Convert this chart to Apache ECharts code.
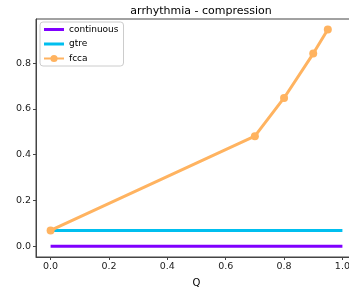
<!DOCTYPE html>
<html><head><meta charset="utf-8">
<script src="https://cdn.jsdelivr.net/npm/echarts@6/dist/echarts.min.js"></script>
<style>html,body{margin:0;padding:0;background:#fff}#c{width:349px;height:291px}</style>
</head><body><div id="c"></div>
<script>
const titleText = 'arrhythmia - compression';
const xName = 'Q';
const continuousX = [0, 1];
const continuousY = [0, 0];
const gtreX = [0, 1];
const gtreY = [0.069, 0.069];
const fccaX = [0, 0.7, 0.8, 0.9, 0.95];
const fccaY = [0.069, 0.481, 0.648, 0.842, 0.947];
const xTicks = [0, 0.2, 0.4, 0.6, 0.8, 1.0];
const yTicks = [0, 0.2, 0.4, 0.6, 0.8];

const pairs = (xs, ys) => xs.map((x, i) => [x, ys[i]]);
const font = 'DejaVu Sans';
const lineIcon = 'path://M0,0L20,0L20,0.01Z M0,3L20,3L20,6L0,6Z M0,9L20,9L20,9.01Z';
const chart = echarts.init(document.getElementById('c'), null, {renderer: 'canvas'});
chart.setOption({
  animation: false,
  title: {text: titleText, left: 196, top: 1, textAlign: 'center',
    textStyle: {fontFamily: font, fontSize: 11, fontWeight: 'normal', color: '#000'}},
  grid: {left: 36, top: 19, width: 321, height: 238, show: true, borderColor: '#444', borderWidth: 1,
    outerBoundsMode: 'none', containLabel: false},
  legend: {
    orient: 'vertical', left: 40, top: 22, padding: [3, 5, 3, 3], itemGap: 5.5,
    itemWidth: 20, itemHeight: 9, borderColor: '#ccc', borderWidth: 1, borderRadius: 3,
    backgroundColor: '#fff',
    textStyle: {fontFamily: font, fontSize: 9, color: '#000'},
    data: [{name: 'continuous', icon: lineIcon}, {name: 'gtre', icon: lineIcon}, {name: 'fcca'}]
  },
  xAxis: {
    type: 'value', min: -0.05, max: 1.05,
    name: xName, nameLocation: 'middle', nameGap: 21,
    nameTextStyle: {fontFamily: font, fontSize: 10, color: '#000'},
    axisLine: {show: true, onZero: false, lineStyle: {color: '#444'}},
    axisTick: {show: true, length: 3, customValues: xTicks, lineStyle: {color: '#444'}},
    axisLabel: {customValues: xTicks, fontFamily: font, fontSize: 9.5, color: '#222', margin: 5,
      formatter: v => v.toFixed(1)},
    splitLine: {show: false}
  },
  yAxis: {
    type: 'value', min: -0.047, max: 0.993,
    axisLine: {show: true, onZero: false, lineStyle: {color: '#444'}},
    axisTick: {show: true, length: 3, customValues: yTicks, lineStyle: {color: '#444'}},
    axisLabel: {customValues: yTicks, fontFamily: font, fontSize: 9.5, color: '#222', margin: 5,
      formatter: v => v.toFixed(1)},
    splitLine: {show: false}
  },
  series: [
    {name: 'continuous', type: 'line', data: pairs(continuousX, continuousY), symbol: 'none',
      lineStyle: {color: '#8000ff', width: 3}, itemStyle: {color: '#8000ff'}},
    {name: 'gtre', type: 'line', data: pairs(gtreX, gtreY), symbol: 'none',
      lineStyle: {color: '#00bfef', width: 3}, itemStyle: {color: '#00bfef'}},
    {name: 'fcca', type: 'line', data: pairs(fccaX, fccaY), symbol: 'circle', symbolSize: 8,
      lineStyle: {color: '#ffb360', width: 3}, itemStyle: {color: '#ffb360'}}
  ]
});
</script></body></html>
